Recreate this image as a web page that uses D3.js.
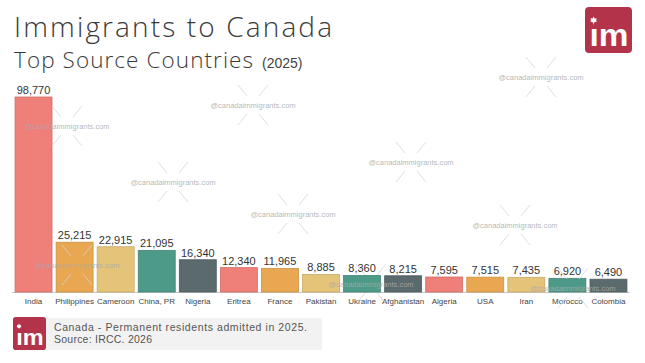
<!DOCTYPE html>
<html>
<head>
<meta charset="utf-8">
<script src="https://cdn.jsdelivr.net/npm/d3@7"></script>
<style>
  body { margin: 0; background: #fff; }
  svg { display: block; }
</style>
</head>
<body>
<div id="chart"></div>
<script>
// data
var countries = ["India", "Philippines", "Cameroon", "China, PR", "Nigeria", "Eritrea", "France",
  "Pakistan", "Ukraine", "Afghanistan", "Algeria", "USA", "Iran", "Morocco", "Colombia"];
var admitted = [98770, 25215, 22915, 21095, 16340, 12340, 11965, 8885, 8360, 8215, 7595, 7515, 7435, 6920, 6490];
var palette = ["#EF7F79", "#E9A751", "#E3C478", "#4C9A87", "#5A6A6D"];

// watermark spots (decoration)
var marks = [[67, 126], [253, 105], [173, 182], [411, 162], [293, 214], [541, 77],
  [515, 225], [77, 265], [371, 284], [573, 288]];

function init() {
    var w = 645, h = 363;
    var baseY = 292, topY = 97;
    var thin = "'Open Sans', Lato, sans-serif";
    var plain = "'Liberation Sans', Arial, sans-serif";

    var svg = d3.select("#chart").append("svg")
        .attr("width", w)
        .attr("height", h);

    var data = countries.map((c, i) => ({ country: c, value: admitted[i], color: palette[i % 5] }));

    var xScale = d3.scaleBand()
        .domain(countries)
        .range([13, 629])
        .paddingInner(0.1)
        .paddingOuter(0.05);
    var yScale = d3.scaleLinear()
        .domain([0, d3.max(admitted)])
        .range([baseY, topY]);

    // Title
    svg.append("text")
        .attr("x", 14).attr("y", 37)
        .style("font-family", thin)
        .style("font-weight", 300)
        .style("font-size", "28px")
        .style("fill", "#3a3a3a")
        .attr("textLength", 318).attr("lengthAdjust", "spacing")
        .text("Immigrants to Canada");

    var sub = svg.append("text")
        .attr("x", 14).attr("y", 68)
        .style("font-family", thin)
        .style("font-weight", 300)
        .style("font-size", "22.5px")
        .style("fill", "#3a3a3a");
    sub.append("tspan").text("Top Source Countries")
        .attr("textLength", 239).attr("lengthAdjust", "spacing");
    sub.append("tspan").attr("dx", 8)
        .style("font-family", plain)
        .style("font-weight", 400)
        .style("font-size", "14px")
        .style("fill", "#444")
        .text("(2025)");

    // Logo top right
    var logo = svg.append("g").attr("transform", "translate(585,7)");
    drawLogo(logo, 47, 46);

    // watermark crosses
    var wm = svg.append("g").attr("class", "watermarks");
    marks.forEach(m => {
        var g = wm.append("g").attr("transform", `translate(${m[0]},${m[1]})`);
        [[-1, -1], [1, -1], [-1, 1], [1, 1]].forEach(s => {
            g.append("line")
                .attr("x1", s[0] * 6).attr("y1", s[1] * 9)
                .attr("x2", s[0] * 15).attr("y2", s[1] * 20)
                .style("stroke", "#d4d4d4").style("stroke-width", 0.8);
        });
    });

    // baseline
    svg.append("line")
        .attr("x1", 12).attr("x2", 630)
        .attr("y1", baseY + 0.5).attr("y2", baseY + 0.5)
        .style("stroke", "#c8c8c8").style("stroke-width", 1);

    // bars
    svg.selectAll("rect.bar")
        .data(data)
        .enter()
        .append("rect")
        .attr("class", "bar")
        .attr("x", d => xScale(d.country))
        .attr("y", d => yScale(d.value))
        .attr("width", xScale.bandwidth())
        .attr("height", d => baseY - yScale(d.value))
        .style("fill", d => d.color)
        .style("stroke", d => d3.color(d.color).darker(0.4))
        .style("stroke-width", 0.8);

    // value labels
    svg.selectAll("text.val")
        .data(data)
        .enter()
        .append("text")
        .attr("class", "val")
        .attr("x", d => xScale(d.country) + xScale.bandwidth() / 2)
        .attr("y", d => yScale(d.value) - 3)
        .style("text-anchor", "middle")
        .style("font-family", plain)
        .style("font-size", "11px")
        .style("fill", "#333")
        .text(d => d3.format(",")(d.value));

    // category labels
    svg.selectAll("text.cat")
        .data(data)
        .enter()
        .append("text")
        .attr("class", "cat")
        .attr("x", d => xScale(d.country) + xScale.bandwidth() / 2)
        .attr("y", 304)
        .style("text-anchor", "middle")
        .style("font-family", plain)
        .style("font-size", "8px")
        .style("fill", "#444")
        .text(d => d.country);

    // watermark text on top of bars
    marks.forEach(m => {
        wm.append("text")
            .attr("x", m[0]).attr("y", m[1] + 2.5)
            .style("text-anchor", "middle")
            .style("font-family", plain)
            .style("font-size", "7.5px")
            .style("fill", "#aaa")
            .style("fill-opacity", 0.85)
            .text("@canadaimmigrants.com");
    });
    wm.raise();

    // footer
    svg.append("rect")
        .attr("x", 46).attr("y", 318)
        .attr("width", 276).attr("height", 32)
        .style("fill", "#f2f2f2");
    var flogo = svg.append("g").attr("transform", "translate(13,317)");
    drawLogo(flogo, 33, 33);

    svg.append("text")
        .attr("x", 54).attr("y", 331)
        .style("font-family", plain)
        .style("font-size", "10.5px")
        .style("fill", "#555")
        .attr("textLength", 253).attr("lengthAdjust", "spacing")
        .text("Canada - Permanent residents admitted in 2025.");
    svg.append("text")
        .attr("x", 54).attr("y", 343)
        .style("font-family", plain)
        .style("font-size", "10.5px")
        .style("fill", "#555")
        .attr("textLength", 98).attr("lengthAdjust", "spacing")
        .text("Source: IRCC. 2026");
}

// red square logo with "im"
function drawLogo(g, lw, lh) {
    var k = lw / 47;
    g.append("rect")
        .attr("width", lw).attr("height", lh)
        .attr("rx", 4 * k)
        .style("fill", "#B3344A");
    g.append("text")
        .attr("x", lw / 2 + 0.5 * k).attr("y", lh - 7 * k)
        .style("text-anchor", "middle")
        .style("font-family", "'Liberation Sans', Arial, sans-serif")
        .style("font-weight", "bold")
        .style("font-size", (31 * k) + "px")
        .style("fill", "#fff")
        .attr("textLength", 39 * k).attr("lengthAdjust", "spacingAndGlyphs")
        .text("ım");
    // tiny maple leaf over the i
    var cx = 8.6 * k, cy = 13.5 * k, s = 3.4 * k;
    var pts = [[0, -1.2], [0.35, -0.5], [0.9, -0.75], [0.7, 0], [1.1, 0.15], [0.4, 0.55],
        [0.1, 0.6], [0.1, 1.1], [-0.1, 1.1], [-0.1, 0.6], [-0.4, 0.55], [-1.1, 0.15],
        [-0.7, 0], [-0.9, -0.75], [-0.35, -0.5]];
    g.append("path")
        .attr("d", d3.line()(pts.map(p => [cx + p[0] * s, cy + p[1] * s])) + "Z")
        .style("fill", "#fff");
}

window.onload = init;
</script>
</body>
</html>
